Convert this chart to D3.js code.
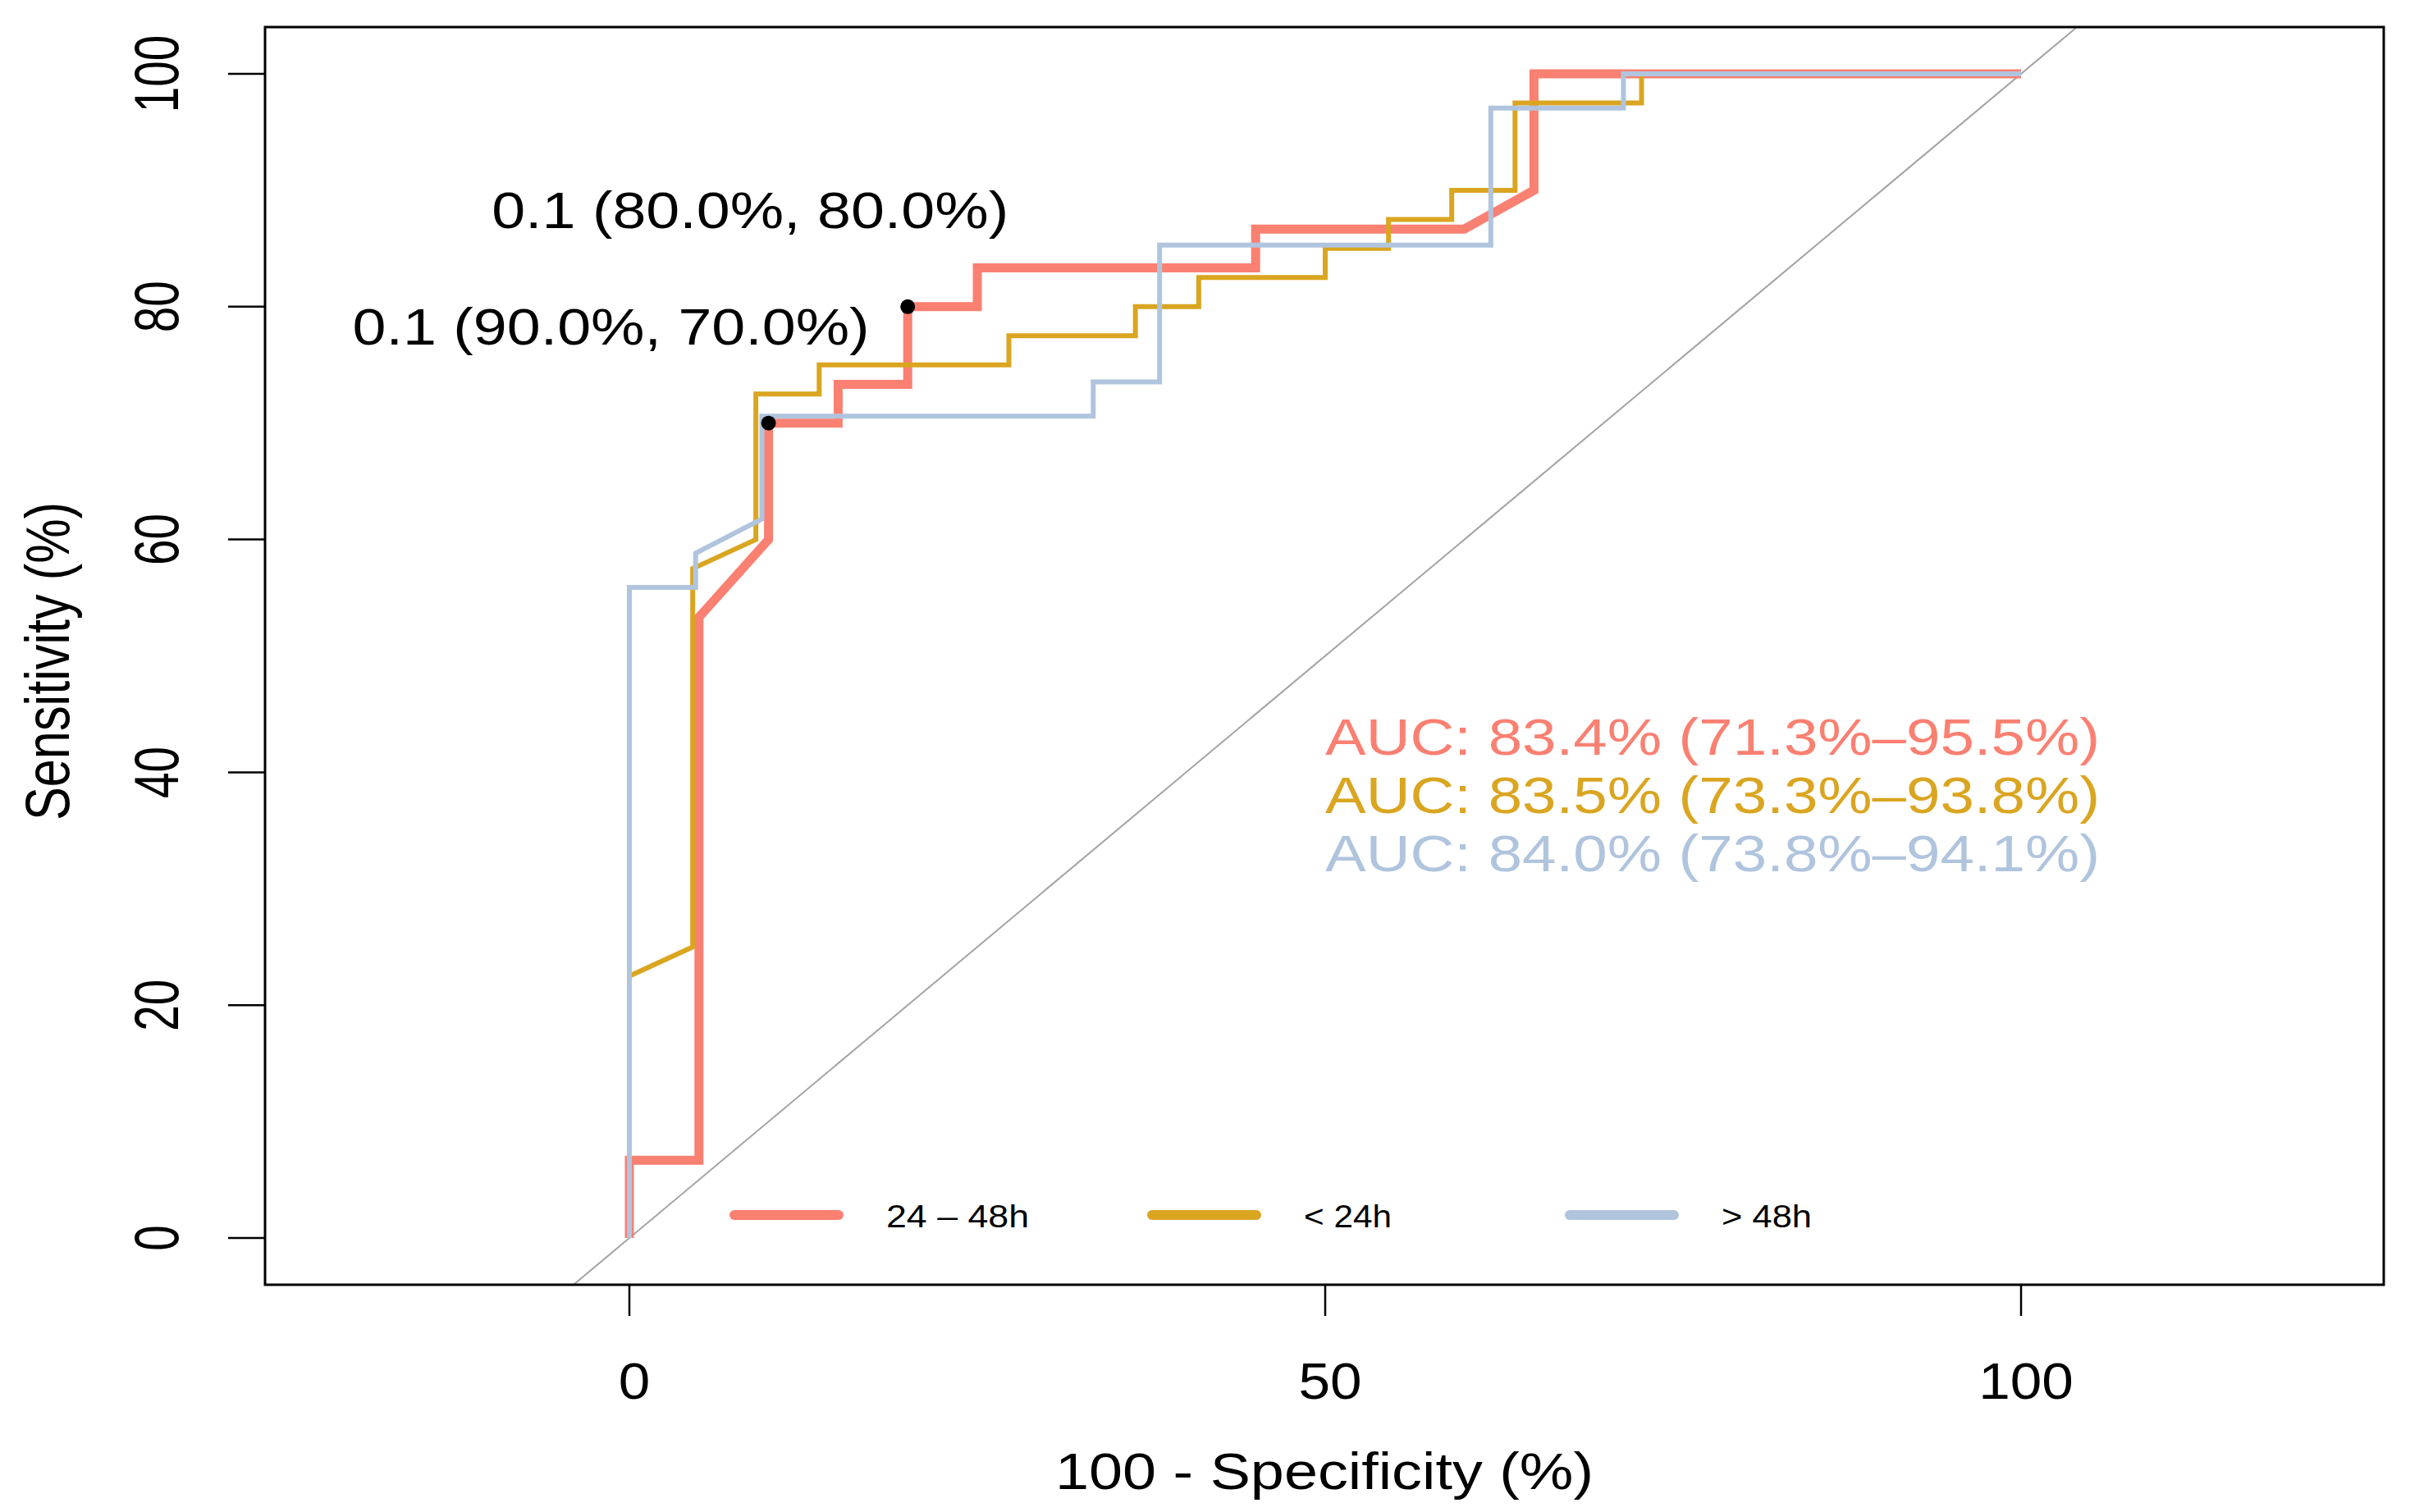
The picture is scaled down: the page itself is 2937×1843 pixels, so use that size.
<!DOCTYPE html>
<html lang="en">
<head>
<meta charset="UTF-8">
<title>ROC curves</title>
<script src="https://cdn.jsdelivr.net/npm/d3@7"></script>
<style>
body {
    margin: 0;
    padding: 0;
    background-color: #fff;
}
svg {
    display: block;
}
text {
    font-family: 'Liberation Sans', Arial, sans-serif;
    fill: #000;
}
</style>
</head>
<body>
<div id="chart"></div>

<script>
// Series (100 - specificity, sensitivity), in %
const seriesNames = ["24 \u2013 48h", "< 24h", "> 48h"];
const seriesColors = ["#FA8072", "#DAA520", "#B0C4DE"];

const fpr2448 = [0, 0, 5, 5, 10, 10, 15, 15, 20, 20, 25, 25, 45, 45, 60, 65, 65, 100];
const tpr2448 = [0, 6.67, 6.67, 53.33, 60, 70, 70, 73.33, 73.33, 80, 80, 83.33, 83.33, 86.67, 86.67, 90, 100, 100];

const fprLt24 = [0, 0, 4.55, 4.55, 9.09, 9.09, 13.64, 13.64, 27.27, 27.27, 36.36, 36.36, 40.91, 40.91, 50, 50, 54.55, 54.55, 59.09, 59.09, 63.64, 63.64, 72.73, 72.73, 100];
const tprLt24 = [0, 22.5, 25, 57.5, 60, 72.5, 72.5, 75, 75, 77.5, 77.5, 80, 80, 82.5, 82.5, 85, 85, 87.5, 87.5, 90, 90, 97.5, 97.5, 100, 100];

const fprGt48 = [0, 0, 4.76, 4.76, 9.52, 9.52, 33.33, 33.33, 38.1, 38.1, 61.9, 61.9, 71.43, 71.43, 100];
const tprGt48 = [0, 55.88, 55.88, 58.82, 61.76, 70.59, 70.59, 73.53, 73.53, 85.29, 85.29, 97.06, 97.06, 100, 100];

const aucLabels = [
    "AUC: 83.4% (71.3%\u201395.5%)",
    "AUC: 83.5% (73.3%\u201393.8%)",
    "AUC: 84.0% (73.8%\u201394.1%)"
];

// Best thresholds printed on the plot
const thrX = [20, 10];
const thrY = [80, 70];
const thrLabels = ["0.1 (80.0%, 80.0%)", "0.1 (90.0%, 70.0%)"];

const xTicks = [0, 50, 100];
const yTicks = [0, 20, 40, 60, 80, 100];

// Layout
const width = 2937, height = 1843;
const box = { left: 323, right: 2905, top: 33, bottom: 1566 };

const x = d3.scaleLinear().domain([0, 100]).range([767, 2463]);
const y = d3.scaleLinear().domain([0, 100]).range([1509, 90]);

const svg = d3.select("#chart").append("svg")
    .attr("width", width).attr("height", height);

svg.append("rect").attr("width", width).attr("height", height).attr("fill", "#fff");

svg.append("clipPath").attr("id", "plotClip")
    .append("rect")
    .attr("x", box.left).attr("y", box.top)
    .attr("width", box.right - box.left).attr("height", box.bottom - box.top);

const plot = svg.append("g").attr("clip-path", "url(#plotClip)");

// chance diagonal
plot.append("line")
    .attr("x1", x(-10)).attr("y1", y(-10))
    .attr("x2", x(110)).attr("y2", y(110))
    .attr("stroke", "#a3a3a3")
    .attr("stroke-width", 2);

// ROC curves
const curves = [
    { fpr: fpr2448, tpr: tpr2448, width: 11 },
    { fpr: fprLt24, tpr: tprLt24, width: 6 },
    { fpr: fprGt48, tpr: tprGt48, width: 6 }
];
const line = d3.line().x(d => x(d[0])).y(d => y(d[1]));

curves.forEach((c, i) => {
    plot.append("path")
        .datum(d3.zip(c.fpr, c.tpr))
        .attr("fill", "none")
        .attr("stroke", seriesColors[i])
        .attr("stroke-width", c.width)
        .attr("stroke-linejoin", "miter")
        .attr("d", line);
});

// threshold points and labels
thrX.forEach((tx, i) => {
    svg.append("circle")
        .attr("cx", x(tx)).attr("cy", y(thrY[i]))
        .attr("r", 9)
        .attr("fill", "#000");
    svg.append("text")
        .attr("x", x(tx) + 123)
        .attr("y", y(thrY[i]) - 96)
        .attr("text-anchor", "end")
        .attr("font-size", 63)
        .attr("textLength", 630)
        .attr("lengthAdjust", "spacingAndGlyphs")
        .text(thrLabels[i]);
});

// AUC labels
aucLabels.forEach((t, i) => {
    svg.append("text")
        .attr("x", x(50))
        .attr("y", y(41.5 - 5 * i))
        .attr("font-size", 63)
        .attr("textLength", 944)
        .attr("lengthAdjust", "spacingAndGlyphs")
        .style("fill", seriesColors[i])
        .text(t);
});

// frame
svg.append("rect")
    .attr("x", box.left).attr("y", box.top)
    .attr("width", box.right - box.left).attr("height", box.bottom - box.top)
    .attr("fill", "none")
    .attr("stroke", "#000")
    .attr("stroke-width", 3);

// y axis
const yAxis = svg.append("g");
yAxis.selectAll("line").data(yTicks).enter().append("line")
    .attr("x1", box.left - 45).attr("x2", box.left)
    .attr("y1", d => y(d)).attr("y2", d => y(d))
    .attr("stroke", "#000").attr("stroke-width", 2.5);
yAxis.selectAll("text").data(yTicks).enter().append("text")
    .attr("transform", d => `translate(217,${y(d)}) rotate(-90) scale(0.9,1.22)`)
    .attr("text-anchor", "middle")
    .attr("font-size", 63)
    .text(d => d);

svg.append("text")
    .attr("transform", "translate(84,806) rotate(-90) scale(0.973,1.22)")
    .attr("text-anchor", "middle")
    .attr("font-size", 63)
    .text("Sensitivity (%)");

// x axis
const xAxis = svg.append("g");
xAxis.selectAll("line").data(xTicks).enter().append("line")
    .attr("x1", d => x(d)).attr("x2", d => x(d))
    .attr("y1", box.bottom).attr("y2", box.bottom + 38)
    .attr("stroke", "#000").attr("stroke-width", 2.5);
xAxis.selectAll("text").data(xTicks).enter().append("text")
    .attr("transform", d => `translate(${x(d) + 6},1705) scale(1.1,1)`)
    .attr("text-anchor", "middle")
    .attr("font-size", 63)
    .text(d => d);

svg.append("text")
    .attr("x", (box.left + box.right) / 2)
    .attr("y", 1815)
    .attr("text-anchor", "middle")
    .attr("font-size", 63)
    .attr("textLength", 656)
    .attr("lengthAdjust", "spacingAndGlyphs")
    .text("100 - Specificity (%)");

// legend
const legendLens = [174, 107, 110];
const legend = svg.append("g");
seriesNames.forEach((name, i) => {
    const lx = 889 + i * 509;
    legend.append("line")
        .attr("x1", lx + 6).attr("x2", lx + 133)
        .attr("y1", 1481).attr("y2", 1481)
        .attr("stroke", seriesColors[i])
        .attr("stroke-width", 12)
        .attr("stroke-linecap", "round");
    legend.append("text")
        .attr("x", lx + 139 + 52)
        .attr("y", 1496)
        .attr("font-size", 39)
        .attr("textLength", legendLens[i])
        .attr("lengthAdjust", "spacingAndGlyphs")
        .text(name);
});
</script>
</body>
</html>
